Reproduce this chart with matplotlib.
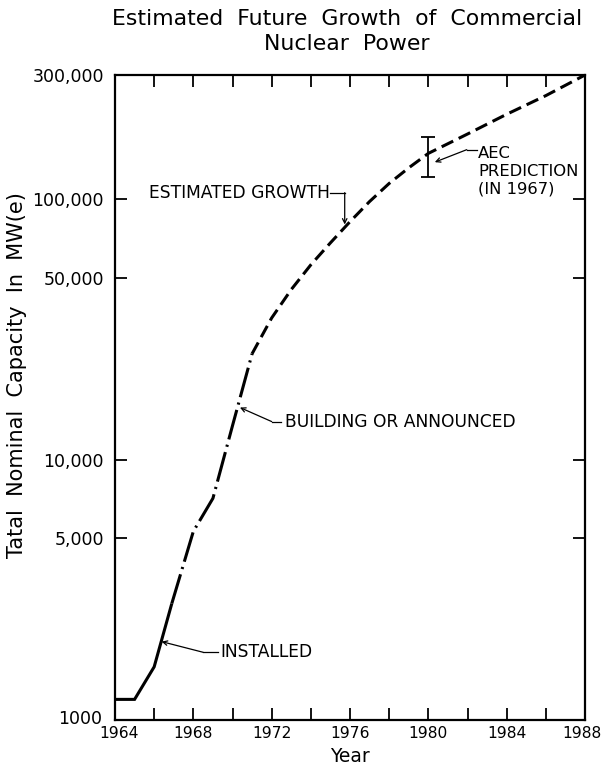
import matplotlib
matplotlib.use("Agg")
import matplotlib.pyplot as plt
from matplotlib.ticker import FixedLocator, FixedFormatter, NullLocator
from matplotlib.transforms import ScaledTranslation

# ---------------- data ----------------
installed_years = [1964, 1965, 1966, 1966.9]
installed_mw = [1200, 1200, 1600, 2800]

building_years = [1966.9, 1968, 1969, 1970, 1971]
building_mw = [2800, 5300, 7100, 13500, 25500]

estimated_years = [1971, 1972, 1973, 1974, 1975, 1976, 1977, 1978, 1979,
                   1980, 1982, 1984, 1986, 1988]
estimated_mw = [25500, 35000, 45000, 56000, 68000, 82000, 98000, 115000,
                132000, 150000, 178000, 212000, 250000, 300000]

aec_year = 1980
aec_low = 122000
aec_high = 173000

y_ticks = [1000, 5000, 10000, 50000, 100000, 300000]
y_ticklabels = ["1000", "5,000", "10,000", "50,000", "100,000", "300,000"]
x_major = [1964, 1968, 1972, 1976, 1980, 1984, 1988]
x_minor = [1966, 1970, 1974, 1978, 1982, 1986]

title = "Estimated  Future  Growth  of  Commercial\nNuclear  Power"
ylabel = "Tatal  Nominal  Capacity  In  MW(e)"
xlabel = "Year"

# ---------------- figure ----------------
plt.rcParams["font.family"] = ["DejaVu Sans"]
W, H = 603, 776
fig = plt.figure(figsize=(W / 100, H / 100), dpi=100)
L, R, T, B = 115, 585, 75, 720
ax = fig.add_axes([L / W, 1 - B / H, (R - L) / W, (B - T) / H])

lw = 2.2
ax.plot(installed_years, installed_mw, color="k", lw=lw,
        solid_capstyle="butt", solid_joinstyle="miter")
ax.plot(building_years, building_mw, color="k", lw=lw,
        linestyle=(0, (10.0, 1.8, 0.7, 1.8)), dash_capstyle="butt")
ax.plot(estimated_years, estimated_mw, color="k", lw=lw,
        linestyle=(0, (4.2, 2.0)), dash_capstyle="butt")

center = (aec_low * aec_high) ** 0.5
ax.errorbar([aec_year], [center],
            yerr=[[center - aec_low], [aec_high - center]],
            fmt="none", ecolor="k", elinewidth=1.3, capsize=5, capthick=1.3)

ax.set_yscale("log")
ax.set_ylim(1000, 300000)
ax.set_xlim(1964, 1988)
ax.yaxis.set_major_locator(FixedLocator(y_ticks))
ax.yaxis.set_major_formatter(FixedFormatter(y_ticklabels))
ax.yaxis.set_minor_locator(NullLocator())
ax.xaxis.set_major_locator(FixedLocator(x_major))
ax.xaxis.set_minor_locator(FixedLocator(x_minor))

for s in ax.spines.values():
    s.set_linewidth(1.6)
ax.tick_params(which="both", direction="in", top=True, right=True,
               length=8.5, width=1.3)
ax.tick_params(axis="y", pad=8, labelsize=12.5)
ax.tick_params(axis="x", pad=4, labelsize=11.2)

# small nudges so edge labels stay inside the figure / apart
fig.canvas.draw()
xlabels = ax.get_xticklabels()
xlabels[-1].set_transform(xlabels[-1].get_transform()
                          + ScaledTranslation(-3 / 100, 0, fig.dpi_scale_trans))
xlabels[0].set_transform(xlabels[0].get_transform()
                         + ScaledTranslation(4 / 100, 0, fig.dpi_scale_trans))
ylabels = ax.get_yticklabels()
ylabels[0].set_transform(ylabels[0].get_transform()
                         + ScaledTranslation(-2 / 100, 3 / 100, fig.dpi_scale_trans))

ax.set_xlabel(xlabel, fontsize=13.5, labelpad=5)

fig.text(17 / W, 1 - 375 / H, ylabel, rotation=90, ha="center", va="center",
         fontsize=15)

fig.text(0.575, 1 - 9 / H, title, ha="center", va="top", fontsize=15.8,
         linespacing=1.3)

# ---------------- annotations ----------------
ann_fs = 12.3
thin = 0.9
arrow = dict(arrowstyle="->", color="k", lw=thin, shrinkA=0, shrinkB=0,
             mutation_scale=8)

# INSTALLED
ax.annotate("", xy=(1966.38, 2000), xytext=(1968.5, 1820), arrowprops=arrow)
ax.plot([1968.5, 1969.26], [1820, 1820], color="k", lw=thin)
ax.text(1969.36, 1820, "INSTALLED", fontsize=ann_fs, va="center", ha="left")

# BUILDING OR ANNOUNCED
ax.annotate("", xy=(1970.38, 15850), xytext=(1972.0, 14000), arrowprops=arrow)
ax.plot([1972.0, 1972.5], [14000, 14000], color="k", lw=thin)
ax.text(1972.67, 14000, "BUILDING OR ANNOUNCED", fontsize=ann_fs,
        va="center", ha="left")

# ESTIMATED GROWTH
ax.plot([1975.0, 1975.73], [106000, 106000], color="k", lw=thin)
ax.annotate("", xy=(1975.73, 80000), xytext=(1975.73, 106000), arrowprops=arrow)
ax.text(1974.95, 106000, "ESTIMATED GROWTH", fontsize=ann_fs,
        va="center", ha="right")

# AEC PREDICTION
ax.annotate("", xy=(1980.33, 138800), xytext=(1981.96, 155000), arrowprops=arrow)
ax.plot([1981.96, 1982.47], [155000, 155000], color="k", lw=thin)
ax.text(1982.55, 128000, "AEC\nPREDICTION\n(IN 1967)", fontsize=11.8,
        va="center", ha="left", linespacing=1.2)

fig.savefig("out.png", dpi=100)
